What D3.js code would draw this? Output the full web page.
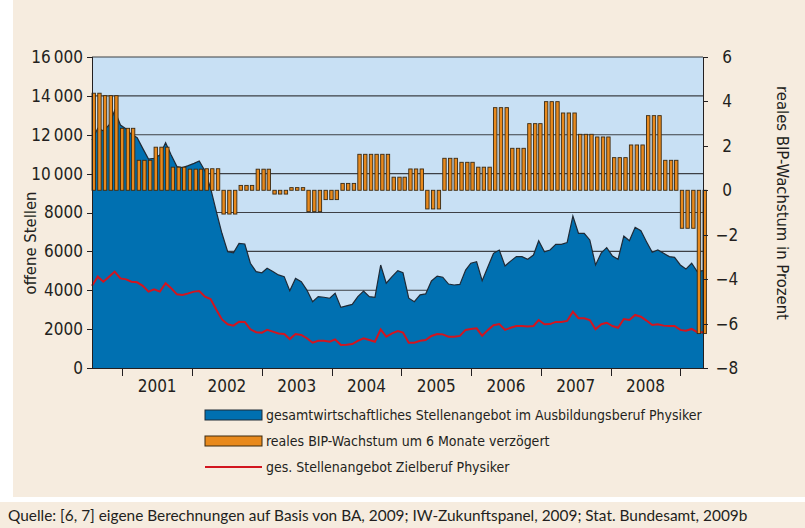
<!DOCTYPE html>
<head>
  <meta charset="utf-8">
  <script src="https://d3js.org/d3.v7.min.js"></script>
  <style>
    html, body { margin: 0; padding: 0; background: #ffffff; }
    text { font-family: 'Liberation Sans Narrow', 'DejaVu Sans Condensed', sans-serif; fill: #231f20; }
    .tick text { font-size: 17px; }
    .axis path, .axis line { stroke: #231f20; shape-rendering: crispEdges; }
    .axisTitle { font-size: 16.5px; }
    .legendLabel { font-size: 14px; }
    .source { font-family: 'Lato', 'Open Sans', sans-serif; font-size: 15.4px; }
  </style>
</head>
<body>
<div id="chart"></div>

<script>

///////////////////////////////////////////////////////////////////////////
//////////////////////////////// Data /////////////////////////////////////
///////////////////////////////////////////////////////////////////////////

// monthly values, Aug 2000 .. Aug 2009
const firstMonth = new Date(2000, 7, 1);
const lastMonth = new Date(2009, 7, 1);

// gesamtwirtschaftliches Stellenangebot im Ausbildungsberuf Physiker
const stellenAusbildung = [
  11730, 12330, 12200, 12500, 13250, 12500, 12300, 12020, 11850, 11300,
  10750, 10790, 10960, 11590, 10960, 10360, 10310, 10410, 10530, 10650,
  10140, 9250, 8040, 6930, 5980, 5930, 6410, 6380, 5390, 4960,
  4900, 5130, 4960, 4790, 4700, 3980, 4610, 4440, 4010, 3410,
  3670, 3640, 3590, 3840, 3120, 3200, 3270, 3670, 3960, 3670,
  3640, 5300, 4360, 4700, 5010, 4900, 3590, 3410, 3760, 3810,
  4480, 4730, 4670, 4320, 4270, 4300, 5040, 5390, 5470, 4490,
  5210, 5900, 6070, 5250, 5500, 5730, 5730, 5590, 5810, 6550,
  5980, 6070, 6360, 6360, 6450, 7820, 6930, 6930, 6590, 5300,
  5930, 6190, 5760, 5590, 6790, 6550, 7240, 7060, 6500, 5950,
  6070, 5900, 5730, 5690, 5300, 5090, 5390, 4960, 5010
];

// ges. Stellenangebot Zielberuf Physiker
const stellenZiel = [
  4230, 4700, 4440, 4700, 4960, 4610, 4560, 4440, 4410, 4230,
  3930, 4050, 3930, 4360, 4100, 3790, 3760, 3840, 3930, 3960,
  3670, 3550, 3000, 2500, 2250, 2180, 2380, 2370, 1990, 1840,
  1820, 1960, 1870, 1780, 1750, 1490, 1750, 1700, 1530, 1300,
  1400, 1400, 1350, 1470, 1180, 1200, 1230, 1400, 1530, 1440,
  1350, 1990, 1610, 1780, 1900, 1820, 1300, 1300, 1400, 1440,
  1650, 1750, 1730, 1610, 1610, 1650, 1960, 2010, 2040, 1660,
  1960, 2200, 2260, 1960, 2070, 2160, 2160, 2130, 2160, 2470,
  2250, 2260, 2370, 2370, 2420, 2900, 2560, 2560, 2470, 1990,
  2250, 2330, 2160, 2070, 2520, 2470, 2730, 2640, 2440, 2210,
  2250, 2180, 2160, 2160, 1960, 1920, 2010, 1840, 1840
];

// reales BIP-Wachstum (um 6 Monate verzoegert), quarterly from 2000 Q3
const bipQuarters = [
  4.37, 4.26,
  2.79, 1.35, 1.94, 1.04,
  0.95, 0.97, -1.07, 0.22,
  0.95, -0.17, 0.12, -0.96,
  -0.42, 0.31, 1.62, 1.62,
  0.59, 0.96, -0.84, 1.44,
  1.26, 1.04, 3.72, 1.89,
  3.00, 3.99, 3.48, 2.52,
  2.40, 1.47, 2.04, 3.36,
  1.35, -1.71, -6.45
];

const years = ["2001", "2002", "2003", "2004", "2005", "2006", "2007", "2008"];
const leftTicks = [0, 2000, 4000, 6000, 8000, 10000, 12000, 14000, 16000];
const rightTicks = [-8, -6, -4, -2, 0, 2, 4, 6];

const legendLabels = [
  "gesamtwirtschaftliches Stellenangebot im Ausbildungsberuf Physiker",
  "reales BIP-Wachstum um 6 Monate verzögert",
  "ges. Stellenangebot Zielberuf Physiker"
];

const months = d3.timeMonth.range(firstMonth, d3.timeMonth.offset(lastMonth, 1));
const data = months.map((m, i) => ({
  month: m,
  ausbildung: stellenAusbildung[i],
  ziel: stellenZiel[i],
  bip: bipQuarters[(m.getFullYear() - 2000) * 4 + Math.floor(m.getMonth() / 3) - 2]
}));

///////////////////////////////////////////////////////////////////////////
//////////////////////////// Svg + scales /////////////////////////////////
///////////////////////////////////////////////////////////////////////////

const W = 805, H = 528;
const plot = { left: 92, right: 703, top: 57, bottom: 368 };

const svg = d3.select("#chart").append("svg")
  .attr("width", W)
  .attr("height", H);

// panels
svg.append("rect").attr("x", 13).attr("y", 0).attr("width", W - 13).attr("height", 497).attr("fill", "#f6ecdf");
svg.append("rect").attr("x", 0).attr("y", 502).attr("width", W).attr("height", H - 502).attr("fill", "#f6ecdf");

const x = d3.scaleTime().domain([firstMonth, lastMonth]).range([plot.left, plot.right]);
// the year ticks of the original do not line up with the monthly data
const xYear = d3.scaleLinear().domain([2000.566, 2009.325]).range([plot.left, plot.right]);
const y = d3.scaleLinear().domain([0, 16000]).range([plot.bottom, plot.top]);
const y2 = d3.scaleLinear().domain([-8, 6]).range([plot.bottom, plot.top]);

svg.append("rect")
  .attr("x", plot.left).attr("y", plot.top)
  .attr("width", plot.right - plot.left).attr("height", plot.bottom - plot.top)
  .attr("fill", "#c8e0f4");

// gridlines
svg.append("g").selectAll("line")
  .data(leftTicks.filter(d => d > 0))
  .enter().append("line")
  .attr("x1", plot.left).attr("x2", plot.right)
  .attr("y1", d => y(d)).attr("y2", d => y(d))
  .attr("stroke", "#3d4045")
  .attr("stroke-width", 1.2);

///////////////////////////////////////////////////////////////////////////
//////////////////////////////// Marks ////////////////////////////////////
///////////////////////////////////////////////////////////////////////////

const area = d3.area()
  .x(d => x(d.month))
  .y0(y(0))
  .y1(d => y(d.ausbildung));

svg.append("path")
  .datum(data)
  .attr("d", area)
  .attr("fill", "#0070b1");

svg.append("path")
  .datum(data)
  .attr("d", d3.line().x(d => x(d.month)).y(d => y(d.ausbildung)))
  .attr("fill", "none")
  .attr("stroke", "#1f2a36")
  .attr("stroke-width", 1.2);

svg.append("path")
  .datum(data)
  .attr("d", d3.line().x(d => x(d.month)).y(d => y(d.ziel)))
  .attr("fill", "none")
  .attr("stroke", "#d2151f")
  .attr("stroke-width", 2);

const barW = 3.4;
svg.append("g").selectAll("rect")
  .data(data)
  .enter().append("rect")
  .attr("x", d => x(d.month) + 1.7 - barW / 2)
  .attr("y", d => Math.min(y2(d.bip), y2(0)))
  .attr("width", barW)
  .attr("height", d => Math.abs(y2(d.bip) - y2(0)))
  .attr("fill", "#e8891c")
  .attr("stroke", "#3b2a12")
  .attr("stroke-width", 0.9);

///////////////////////////////////////////////////////////////////////////
//////////////////////////////// Axes /////////////////////////////////////
///////////////////////////////////////////////////////////////////////////

const fmt = v => v >= 10000 ? d3.format(",")(v).replace(",", "\u2009") : String(v);

svg.append("g")
  .attr("class", "axis")
  .attr("transform", "translate(" + plot.left + ",0)")
  .call(d3.axisLeft(y).tickValues(leftTicks).tickFormat(fmt).tickSize(5).tickPadding(4));

const rightAxis = svg.append("g")
  .attr("class", "axis")
  .attr("transform", "translate(" + plot.right + ",0)")
  .call(d3.axisRight(y2).tickValues(rightTicks).tickFormat(d => d < 0 ? "\u2212" + Math.abs(d) : d).tickSize(5));
rightAxis.selectAll(".tick text").attr("x", 24).attr("text-anchor", "middle");

const bottomAxis = svg.append("g")
  .attr("class", "axis")
  .attr("transform", "translate(0," + plot.bottom + ")")
  .call(d3.axisBottom(xYear).tickValues(d3.range(2001, 2010)).tickFormat("").tickSize(8).tickSizeOuter(0));
bottomAxis.select(".domain").attr("d", "M" + plot.left + ",0H" + plot.right);

svg.append("g").selectAll("text")
  .data(years)
  .enter().append("text")
  .attr("x", d => xYear(+d + 0.5))
  .attr("y", 392)
  .attr("text-anchor", "middle")
  .style("font-size", "17px")
  .text(d => d);

svg.append("text")
  .attr("class", "axisTitle")
  .attr("transform", "translate(36,243) rotate(-90)")
  .attr("text-anchor", "middle")
  .text("offene Stellen");

svg.append("text")
  .attr("class", "axisTitle")
  .attr("transform", "translate(777,203) rotate(90)")
  .attr("text-anchor", "middle")
  .text("reales BIP-Wachstum in Prozent");

///////////////////////////////////////////////////////////////////////////
/////////////////////////////// Legend ////////////////////////////////////
///////////////////////////////////////////////////////////////////////////

const legend = svg.append("g").attr("transform", "translate(205,0)");
const rowY = [415, 441, 467];

legend.append("rect").attr("x", 0).attr("y", rowY[0] - 5).attr("width", 57).attr("height", 10)
  .attr("fill", "#0070b1").attr("stroke", "#1f2a36").attr("stroke-width", 1);
legend.append("rect").attr("x", 0).attr("y", rowY[1] - 5).attr("width", 57).attr("height", 10)
  .attr("fill", "#e8891c").attr("stroke", "#3b2a12").attr("stroke-width", 1);
legend.append("line").attr("x1", 0).attr("x2", 57).attr("y1", rowY[2]).attr("y2", rowY[2])
  .attr("stroke", "#d2151f").attr("stroke-width", 2);

legend.selectAll(".legendLabel")
  .data(legendLabels)
  .enter().append("text")
  .attr("class", "legendLabel")
  .attr("x", 61)
  .attr("y", (d, i) => rowY[i] + 5)
  .text(d => d);

svg.append("text")
  .attr("class", "source")
  .attr("x", 8)
  .attr("y", 521)
  .text("Quelle: [6, 7] eigene Berechnungen auf Basis von BA, 2009; IW-Zukunftspanel, 2009; Stat. Bundesamt, 2009b");

</script>
</body>
